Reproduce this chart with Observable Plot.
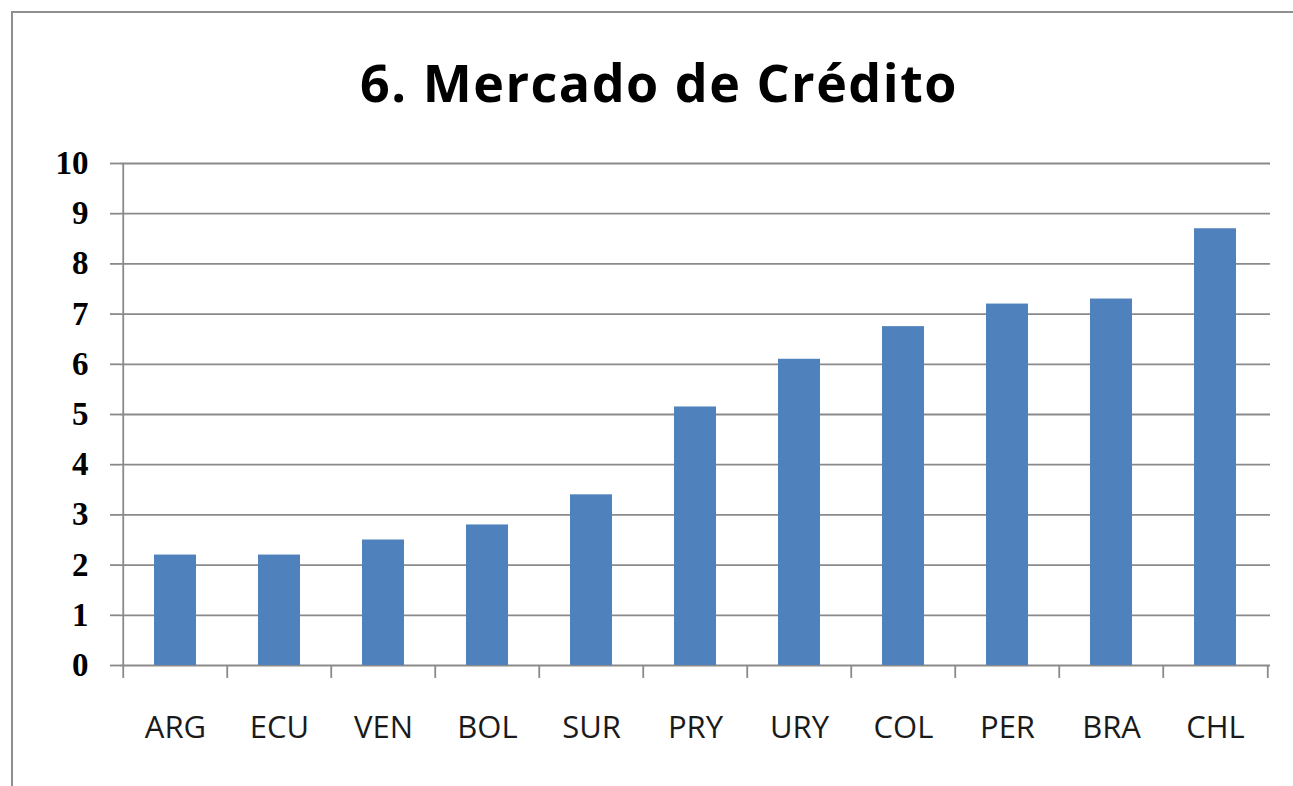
<!DOCTYPE html>
<html><head><meta charset="utf-8">
<script src="https://cdn.jsdelivr.net/npm/d3@7"></script>
<script src="https://cdn.jsdelivr.net/npm/@observablehq/plot@0.6"></script>
<style>
body{margin:0;background:#fff;width:1293px;height:786px;overflow:hidden;position:relative;}
#chart{position:absolute;left:0;top:0;}
#frame{position:absolute;left:11px;top:11px;width:1300px;height:800px;border:2px solid #8f8f8f;box-sizing:border-box;pointer-events:none;}
#title{position:absolute;left:12px;width:1294px;top:50px;text-align:center;font-family:"Open Sans";font-weight:bold;font-size:52px;letter-spacing:1.5px;color:#000;line-height:64px;}
</style></head><body>
<div id="chart"></div>
<div id="frame"></div>
<div id="title">6. Mercado de Crédito</div>
<script>
const countries = ["ARG","ECU","VEN","BOL","SUR","PRY","URY","COL","PER","BRA","CHL"];
const values = [2.2, 2.2, 2.5, 2.8, 3.4, 5.15, 6.1, 6.75, 7.2, 7.3, 8.7];
const yTicks = [0,1,2,3,4,5,6,7,8,9,10];

const data = countries.map((c, i) => ({country: c, value: values[i]}));

const W = 1293, H = 786, ML = 120, MR = 23, MT = 163, MB = 121;
const halfStep = (W - ML - MR) / countries.length / 2;
const gridColor = "#8a8a8a";

const chart = Plot.plot({
  width: W, height: H,
  marginLeft: ML, marginRight: MR, marginTop: MT, marginBottom: MB,
  style: {background: "transparent"},
  x: {domain: countries, paddingInner: 0.6, paddingOuter: 0.3, label: null},
  y: {domain: [0, 10], label: null},
  marks: [
    Plot.ruleY(yTicks, {stroke: gridColor, strokeWidth: 1.8}),
    Plot.barY(data, {x: "country", y: "value", fill: "#4F81BD"}),
    Plot.ruleX(countries, {x: d => d, y1: 0, y2: 0, dx: -halfStep, insetBottom: -13, stroke: gridColor, strokeWidth: 1.8}),
    Plot.ruleX([countries[countries.length - 1]], {x: d => d, y1: 0, y2: 0, dx: halfStep, insetBottom: -13, stroke: gridColor, strokeWidth: 1.8}),
    Plot.ruleX([countries[0]], {x: d => d, y1: 0, y2: 10, dx: -halfStep, stroke: gridColor, strokeWidth: 1.8}),
    Plot.axisY({ticks: yTicks, tickSize: 10, tickPadding: 22, stroke: gridColor, strokeWidth: 1.8, fill: "#000",
      fontSize: 33, fontWeight: "bold", fontFamily: "Liberation Serif", label: null, tickFormat: d => String(d)}),
    Plot.axisX({tickSize: 0, tickPadding: 50, fill: "#1a1a1a", fontSize: 31, fontFamily: "Open Sans", label: null})
  ]
});
document.getElementById("chart").appendChild(chart);
</script>
</body></html>
